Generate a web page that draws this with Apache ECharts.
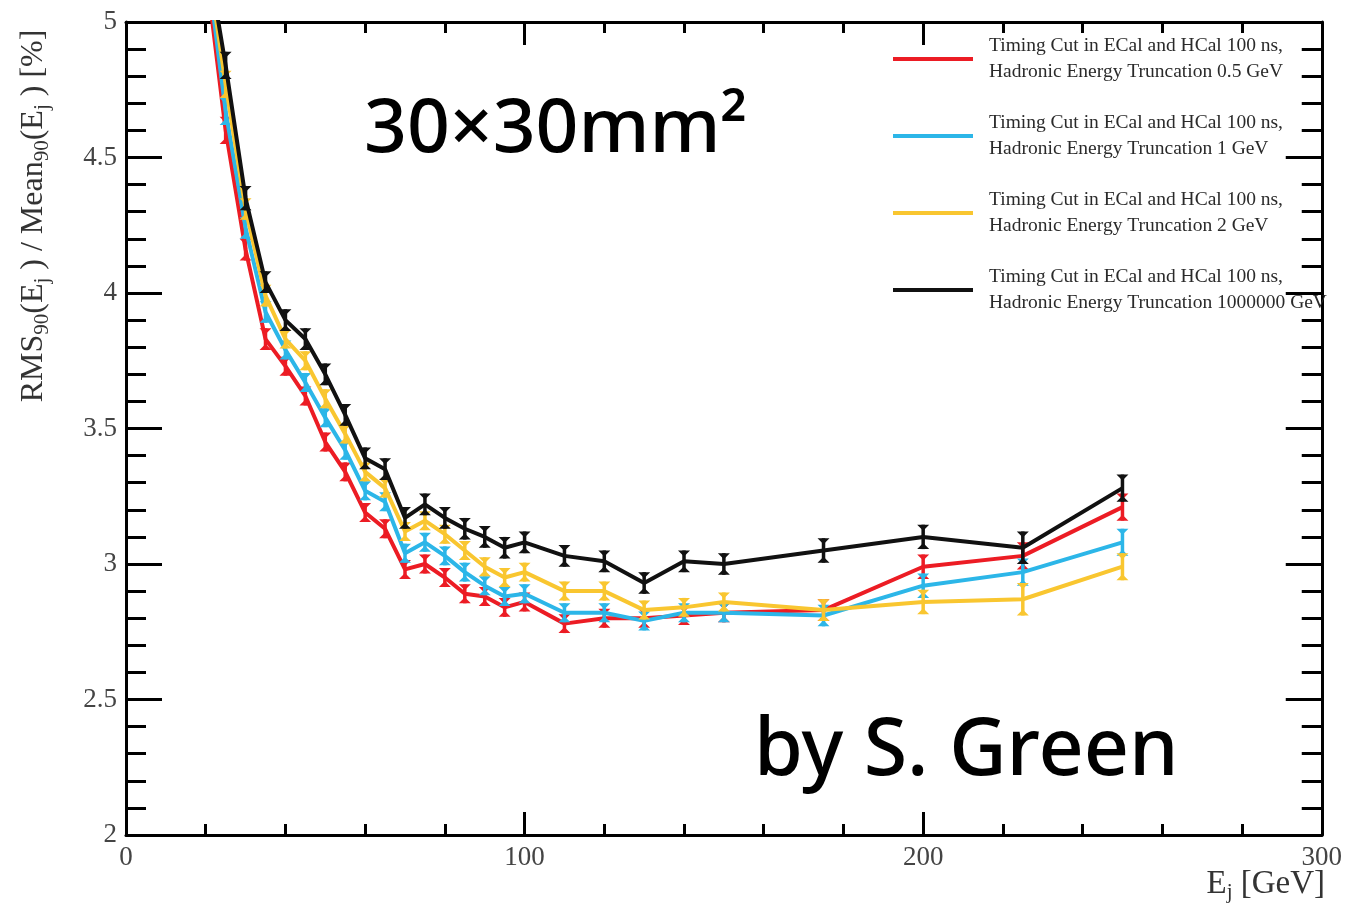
<!DOCTYPE html>
<html>
<head>
<meta charset="utf-8">
<script src="https://cdn.jsdelivr.net/npm/echarts@6/dist/echarts.min.js"></script>
<style>
  html, body { margin: 0; padding: 0; background: #fff; }
  #chart { width: 1345px; height: 911px; }
</style>
</head>
<body>
<div id="chart"></div>
<script>
// Jet energy points [GeV]
const energies = [20, 25, 30, 35, 40, 45, 50, 55, 60, 65, 70, 75, 80, 85, 90, 95, 100, 110, 120, 130, 140, 150, 175, 200, 225, 250];

// RMS90 / Mean90 [%] for each hadronic energy truncation
const trunc05 = [5.20, 4.60, 4.16, 3.83, 3.73, 3.62, 3.45, 3.34, 3.19, 3.13, 2.98, 3.00, 2.95, 2.89, 2.88, 2.84, 2.86, 2.78, 2.80, 2.80, 2.81, 2.82, 2.83, 2.99, 3.03, 3.21];
const trunc1 = [5.25, 4.67, 4.24, 3.93, 3.79, 3.67, 3.54, 3.42, 3.27, 3.23, 3.04, 3.08, 3.03, 2.97, 2.92, 2.88, 2.89, 2.82, 2.82, 2.79, 2.82, 2.82, 2.81, 2.92, 2.97, 3.08];
const trunc2 = [5.27, 4.77, 4.31, 3.99, 3.83, 3.75, 3.61, 3.48, 3.34, 3.28, 3.12, 3.16, 3.11, 3.05, 2.99, 2.95, 2.97, 2.90, 2.90, 2.83, 2.84, 2.86, 2.83, 2.86, 2.87, 2.99];
const truncNone = [5.28, 4.84, 4.35, 4.04, 3.90, 3.83, 3.70, 3.55, 3.39, 3.35, 3.17, 3.22, 3.17, 3.13, 3.10, 3.06, 3.08, 3.03, 3.01, 2.93, 3.01, 3.00, 3.05, 3.10, 3.06, 3.28];

// Statistical uncertainties (half-length of error bars)
const err05 = [0.05, 0.05, 0.04, 0.04, 0.035, 0.035, 0.035, 0.035, 0.035, 0.035, 0.035, 0.035, 0.035, 0.035, 0.035, 0.035, 0.035, 0.035, 0.035, 0.035, 0.035, 0.035, 0.04, 0.045, 0.05, 0.05];
const err1 = [0.05, 0.05, 0.04, 0.04, 0.035, 0.035, 0.035, 0.035, 0.035, 0.035, 0.035, 0.035, 0.035, 0.035, 0.035, 0.035, 0.035, 0.035, 0.035, 0.035, 0.035, 0.035, 0.04, 0.045, 0.05, 0.05];
const err2 = [0.05, 0.05, 0.04, 0.04, 0.035, 0.035, 0.035, 0.035, 0.035, 0.035, 0.035, 0.035, 0.035, 0.035, 0.035, 0.035, 0.035, 0.035, 0.035, 0.035, 0.035, 0.035, 0.04, 0.045, 0.06, 0.05];
const errNone = [0.05, 0.05, 0.045, 0.04, 0.04, 0.04, 0.04, 0.04, 0.04, 0.04, 0.04, 0.04, 0.04, 0.04, 0.04, 0.04, 0.04, 0.04, 0.04, 0.04, 0.04, 0.04, 0.045, 0.045, 0.06, 0.05];

const seriesNames = [
  'Timing Cut in ECal and HCal 100 ns,\nHadronic Energy Truncation 0.5 GeV',
  'Timing Cut in ECal and HCal 100 ns,\nHadronic Energy Truncation 1 GeV',
  'Timing Cut in ECal and HCal 100 ns,\nHadronic Energy Truncation 2 GeV',
  'Timing Cut in ECal and HCal 100 ns,\nHadronic Energy Truncation 1000000 GeV'
];
const seriesColors = ['#ec1c24', '#2cb6e8', '#f9c630', '#111111'];
const seriesValues = [trunc05, trunc1, trunc2, truncNone];
const seriesErrors = [err05, err1, err2, errNone];

const xTicks = { min: 0, max: 300, interval: 100 };
const yTicks = { min: 2, max: 5, interval: 0.5 };

const serif = '"Liberation Serif", "DejaVu Serif", serif';

function errorBarRenderer(color) {
  return function (params, api) {
    const x = api.value(0);
    const pLo = api.coord([x, api.value(1)]);
    const pHi = api.coord([x, api.value(2)]);
    const w = 6, h = 6;
    return {
      type: 'group',
      children: [
        { type: 'line', shape: { x1: pLo[0], y1: pLo[1], x2: pHi[0], y2: pHi[1] }, style: { stroke: color, lineWidth: 3.5 } },
        { type: 'polygon', shape: { points: [[pHi[0] - w, pHi[1]], [pHi[0] + w, pHi[1]], [pHi[0], pHi[1] + h]] }, style: { fill: color } },
        { type: 'polygon', shape: { points: [[pLo[0] - w, pLo[1]], [pLo[0] + w, pLo[1]], [pLo[0], pLo[1] - h]] }, style: { fill: color } }
      ]
    };
  };
}

const series = [];
seriesValues.forEach(function (vals, i) {
  series.push({
    name: seriesNames[i],
    type: 'line',
    data: energies.map(function (e, k) { return [e, vals[k]]; }),
    showSymbol: false,
    symbol: 'none',
    lineStyle: { color: seriesColors[i], width: 4 },
    itemStyle: { color: seriesColors[i] },
    clip: true,
    z: 2 + i * 2,
    animation: false
  });
  series.push({
    name: seriesNames[i],
    type: 'custom',
    renderItem: errorBarRenderer(seriesColors[i]),
    data: energies.map(function (e, k) { return [e, vals[k] - seriesErrors[i][k], vals[k] + seriesErrors[i][k]]; }),
    encode: { x: 0, y: [1, 2] },
    clip: true,
    z: 3 + i * 2,
    animation: false
  });
});

const axisLine = { show: true, onZero: false, lineStyle: { color: '#000', width: 3 } };

const chart = echarts.init(document.getElementById('chart'));
chart.setOption({
  backgroundColor: '#fff',
  animation: false,
  grid: { left: 126, right: 20, top: 22, bottom: 76, containLabel: false },
  xAxis: [
    {
      type: 'value', position: 'bottom', min: xTicks.min, max: xTicks.max, interval: xTicks.interval,
      axisLine: axisLine,
      axisTick: { show: true, inside: true, length: 23, lineStyle: { color: '#000', width: 3 } },
      minorTick: { show: true, splitNumber: 5, length: 11, lineStyle: { color: '#000', width: 3 } },
      splitLine: { show: false },
      axisLabel: { show: true, margin: 9, color: '#444', fontFamily: serif, fontSize: 27, showMinLabel: true, showMaxLabel: true }
    },
    {
      type: 'value', position: 'top', min: xTicks.min, max: xTicks.max, interval: xTicks.interval,
      axisLine: axisLine,
      axisTick: { show: true, inside: true, length: 23, lineStyle: { color: '#000', width: 3 } },
      minorTick: { show: true, splitNumber: 5, length: 11, lineStyle: { color: '#000', width: 3 } },
      splitLine: { show: false },
      axisLabel: { show: false }
    }
  ],
  yAxis: [
    {
      type: 'value', position: 'left', min: yTicks.min, max: yTicks.max, interval: yTicks.interval,
      axisLine: axisLine,
      axisTick: { show: true, inside: true, length: 36, lineStyle: { color: '#000', width: 3 } },
      minorTick: { show: true, splitNumber: 5, length: 20, lineStyle: { color: '#000', width: 3 } },
      splitLine: { show: false },
      axisLabel: { show: true, margin: 9, color: '#444', fontFamily: serif, fontSize: 27, showMinLabel: true, showMaxLabel: true }
    },
    {
      type: 'value', position: 'right', min: yTicks.min, max: yTicks.max, interval: yTicks.interval,
      axisLine: axisLine,
      axisTick: { show: true, inside: true, length: 36, lineStyle: { color: '#000', width: 3 } },
      minorTick: { show: true, splitNumber: 5, length: 20, lineStyle: { color: '#000', width: 3 } },
      splitLine: { show: false },
      axisLabel: { show: false }
    }
  ],
  legend: {
    orient: 'vertical',
    left: 888,
    top: 28,
    itemWidth: 80,
    itemHeight: 4,
    itemGap: 25,
    icon: 'rect',
    data: seriesNames.map(function (n) { return { name: n, icon: 'rect' }; }),
    textStyle: { fontFamily: serif, fontSize: 19.5, lineHeight: 26, color: '#2a2a2a', padding: [0, 0, 0, 11] },
    selectedMode: false
  },
  series: series,
  graphic: [
    {
      type: 'text', x: 34, y: 216, rotation: Math.PI / 2,
      style: {
        text: 'RMS{s|90}(E{s|j} ) / Mean{s|90}(E{s|j} ) [%]',
        align: 'center', verticalAlign: 'middle',
        font: '32px ' + serif, fill: '#333', lineHeight: 38,
        rich: { s: { fontSize: 21, fontFamily: serif, fill: '#333', lineHeight: 21, verticalAlign: 'bottom' } }
      }
    },
    {
      type: 'text', x: 1325, y: 884,
      style: {
        text: 'E{s|j} [GeV]',
        align: 'right', verticalAlign: 'middle',
        font: '33px ' + serif, fill: '#333', lineHeight: 38,
        rich: { s: { fontSize: 21, fontFamily: serif, fill: '#333', lineHeight: 21, verticalAlign: 'bottom' } }
      }
    },
    {
      type: 'text', x: 364, y: 131,
      style: { text: '30×30mm²', font: '500 75px "Noto Sans", Roboto, sans-serif', fill: '#000', align: 'left', verticalAlign: 'middle' }
    },
    {
      type: 'text', x: 754, y: 752,
      style: { text: 'by S. Green', font: '500 79px "Noto Sans", Roboto, sans-serif', fill: '#000', align: 'left', verticalAlign: 'middle' }
    }
  ]
});
</script>
</body>
</html>
